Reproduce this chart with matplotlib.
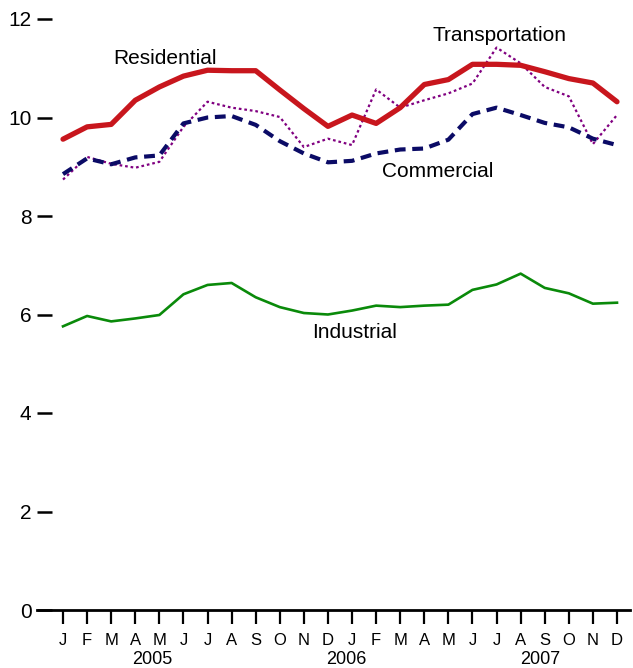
import matplotlib
matplotlib.use("Agg")
import matplotlib.pyplot as plt
import matplotlib.transforms as mtransforms

plt.rcParams['font.family'] = ['Liberation Sans', 'DejaVu Sans']

months = ["J", "F", "M", "A", "M", "J", "J", "A", "S", "O", "N", "D",
          "J", "F", "M", "A", "M", "J", "J", "A", "S", "O", "N", "D"]
years = ["2005", "2006", "2007"]

residential = [9.56, 9.81, 9.86, 10.35, 10.62, 10.84, 10.96, 10.95, 10.95, 10.56, 10.18, 9.82,
               10.05, 9.88, 10.20, 10.67, 10.77, 11.08, 11.08, 11.06, 10.93, 10.79, 10.70, 10.32]
commercial = [8.85, 9.17, 9.05, 9.19, 9.23, 9.88, 10.00, 10.03, 9.85, 9.52, 9.27, 9.09,
              9.12, 9.27, 9.35, 9.37, 9.55, 10.07, 10.20, 10.05, 9.89, 9.80, 9.57, 9.44]
transportation = [8.74, 9.20, 9.06, 8.98, 9.10, 9.81, 10.32, 10.20, 10.13, 10.01, 9.40, 9.57,
                  9.44, 10.57, 10.20, 10.35, 10.49, 10.69, 11.42, 11.10, 10.62, 10.43, 9.46, 10.05]
industrial = [5.76, 5.97, 5.86, 5.92, 5.99, 6.41, 6.60, 6.64, 6.35, 6.15, 6.03, 6.00,
              6.08, 6.18, 6.15, 6.18, 6.20, 6.50, 6.61, 6.83, 6.54, 6.43, 6.22, 6.24]
yticks = [0, 2, 4, 6, 8, 10, 12]

x = list(range(len(months)))

fig = plt.figure(figsize=(6.33, 6.68), dpi=100)
ax = fig.add_axes([37/633, 58/668, (630-37)/633, (649-58)/668])

ax.plot(x, industrial, color="#0a8a0a", lw=1.9, solid_joinstyle="round", zorder=2)
ax.plot(x, transportation, color="#800080", lw=1.6, linestyle=(0, (1.2, 1.3)), zorder=3)
ax.plot(x, commercial, color="#0b0b66", lw=3.0, linestyle=(0, (2.6, 1.6)), zorder=4)
ax.plot(x, residential, color="#c8161d", lw=3.8, solid_capstyle="round",
        solid_joinstyle="round", zorder=5)

ax.set_xlim(-1.08, 23.54)
ax.set_ylim(0, 12)

for s in ["top", "right", "left"]:
    ax.spines[s].set_visible(False)
ax.spines["bottom"].set_linewidth(2.0)
ax.spines["bottom"].set_color("black")

ax.set_yticks(yticks)
ax.set_yticklabels([str(v) for v in yticks], fontsize=15)
ax.tick_params(axis="y", direction="in", length=11, width=1.8, pad=4, colors="black")

ax.set_xticks(x)
ax.set_xticklabels(months, fontsize=12)
ax.tick_params(axis="x", direction="out", length=10, width=1.6, pad=6.5, colors="black")

trans = mtransforms.blended_transform_factory(ax.transData, fig.transFigure)
for label, xp in zip(years, [3.7, 11.75, 19.8]):
    fig.text(xp, 3.5/668, label, transform=trans, ha="center", va="baseline", fontsize=13)

ax.text(4.23, 11.19, "Residential", ha="center", va="center", fontsize=15)
ax.text(18.14, 11.66, "Transportation", ha="center", va="center", fontsize=15)
ax.text(15.57, 8.91, "Commercial", ha="center", va="center", fontsize=15)
ax.text(12.12, 5.63, "Industrial", ha="center", va="center", fontsize=15)

fig.savefig("out.png", dpi=100)
